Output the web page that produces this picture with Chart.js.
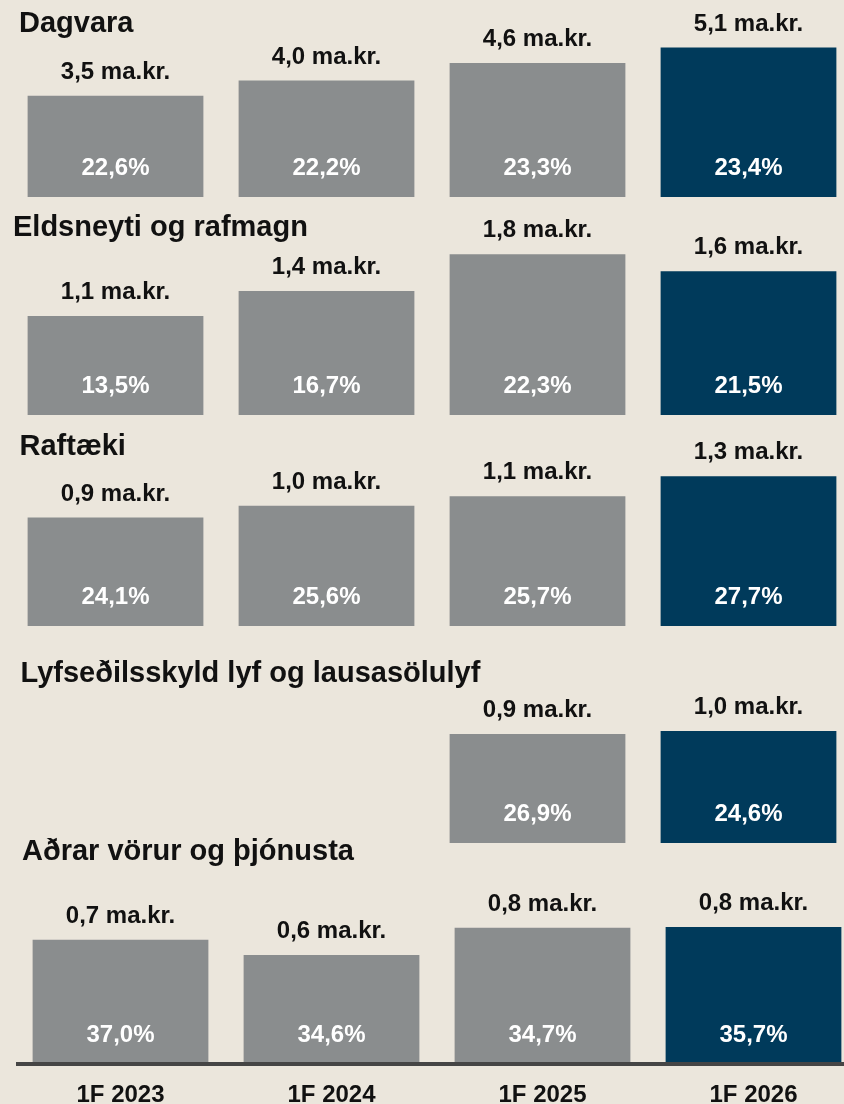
<!DOCTYPE html>
<html lang="is">
<head>
<meta charset="utf-8">
<title>Velta eftir flokkum</title>
<script src="https://cdn.jsdelivr.net/npm/chart.js@4.4.1/dist/chart.umd.min.js"></script>
<style>
  html, body {
    margin: 0;
    padding: 0;
    width: 844px;
    height: 1104px;
    overflow: hidden;
    background: #ebe6dc;
  }
  .panel {
    position: absolute;
  }
</style>
</head>
<body>
<div id="charts"></div>
<script>
// gögn
const categories = ['1F 2023', '1F 2024', '1F 2025', '1F 2026'];

const dagvara = [3.47, 3.99, 4.59, 5.12];
const dagvaraShare = [22.6, 22.2, 23.3, 23.4];

const eldsneyti = [1.11, 1.39, 1.80, 1.61];
const eldsneytiShare = [13.5, 16.7, 22.3, 21.5];

const raftaeki = [0.92, 1.02, 1.10, 1.27];
const raftaekiShare = [24.1, 25.6, 25.7, 27.7];

const lyf = [null, null, 0.94, 0.965];
const lyfShare = [null, null, 26.9, 24.6];

const adrar = [0.72, 0.63, 0.79, 0.795];
const adrarShare = [37.0, 34.6, 34.7, 35.7];

const titles = [
  'Dagvara',
  'Eldsneyti og rafmagn',
  'Raftæki',
  'Lyfseðilsskyld lyf og lausasölulyf',
  'Aðrar vörur og þjónusta'
];

// útlit
const grey = '#8a8d8e';
const navy = '#003a5b';
const font = '"Liberation Sans", Arial, Helvetica, sans-serif';

const panels = [
  { values: dagvara, shares: dagvaraShare, left: 10, top: 0, height: 197, max: 6.75, titleX: 19, titleY: 32, shareGap: 22.5 },
  { values: eldsneyti, shares: eldsneytiShare, left: 10, top: 200, height: 215, max: 2.408, titleX: 13, titleY: 236, shareGap: 22.3 },
  { values: raftaeki, shares: raftaekiShare, left: 10, top: 418, height: 208, max: 1.763, titleX: 19.5, titleY: 455, shareGap: 22.4 },
  { values: lyf, shares: lyfShare, left: 10, top: 634, height: 209, max: 1.802, titleX: 20.5, titleY: 682, shareGap: 22.3 },
  { values: adrar, shares: adrarShare, left: 15, top: 830, height: 274, max: 1.365, titleX: 22, titleY: 860, shareGap: 20.5, axis: true }
];

function fmt(v) {
  return v.toFixed(1).replace('.', ',');
}

function labelPlugin(p, title) {
  return {
    id: 'barLabels',
    afterDatasetsDraw(chart) {
      const { ctx, chartArea, scales } = chart;
      const meta = chart.getDatasetMeta(0);
      ctx.save();

      // fyrirsögn
      ctx.font = 'bold 29px ' + font;
      ctx.fillStyle = '#111';
      ctx.textAlign = 'left';
      ctx.textBaseline = 'alphabetic';
      ctx.fillText(title, p.titleX - p.left, p.titleY - p.top);

      ctx.font = 'bold 24px ' + font;
      ctx.textAlign = 'center';
      meta.data.forEach((bar, i) => {
        const v = p.values[i];
        if (v == null) return;
        ctx.fillStyle = '#111';
        ctx.fillText(fmt(v) + ' ma.kr.', bar.x, bar.y - 16.8);
        ctx.fillStyle = '#fff';
        ctx.fillText(fmt(p.shares[i]) + '%', bar.x, bar.base - p.shareGap);
      });

      // x-ás neðst
      if (p.axis) {
        ctx.fillStyle = '#454545';
        ctx.fillRect(16 - p.left, chartArea.bottom, 844, 4);
        ctx.fillStyle = '#111';
        categories.forEach((c, i) => {
          ctx.fillText(c, scales.x.getPixelForValue(i), chartArea.bottom + 39.7);
        });
      }
      ctx.restore();
    }
  };
}

const holder = document.getElementById('charts');

panels.forEach((p, n) => {
  const box = document.createElement('div');
  box.className = 'panel';
  box.style.left = p.left + 'px';
  box.style.top = p.top + 'px';
  box.style.width = '844px';
  box.style.height = p.height + 'px';
  const canvas = document.createElement('canvas');
  box.appendChild(canvas);
  holder.appendChild(box);

  new Chart(canvas, {
    type: 'bar',
    data: {
      labels: categories,
      datasets: [{
        data: p.values,
        backgroundColor: categories.map((c, i) => i === categories.length - 1 ? navy : grey),
        borderWidth: 0,
        barPercentage: 0.833,
        categoryPercentage: 1
      }]
    },
    options: {
      responsive: true,
      maintainAspectRatio: false,
      animation: false,
      events: [],
      layout: { padding: { top: 0, left: 0, right: 0, bottom: p.axis ? 42 : 0 } },
      plugins: {
        legend: { display: false },
        tooltip: { enabled: false },
        title: { display: false }
      },
      scales: {
        x: { display: false },
        y: { display: false, min: 0, max: p.max }
      }
    },
    plugins: [labelPlugin(p, titles[n])]
  });
});
</script>
</body>
</html>
